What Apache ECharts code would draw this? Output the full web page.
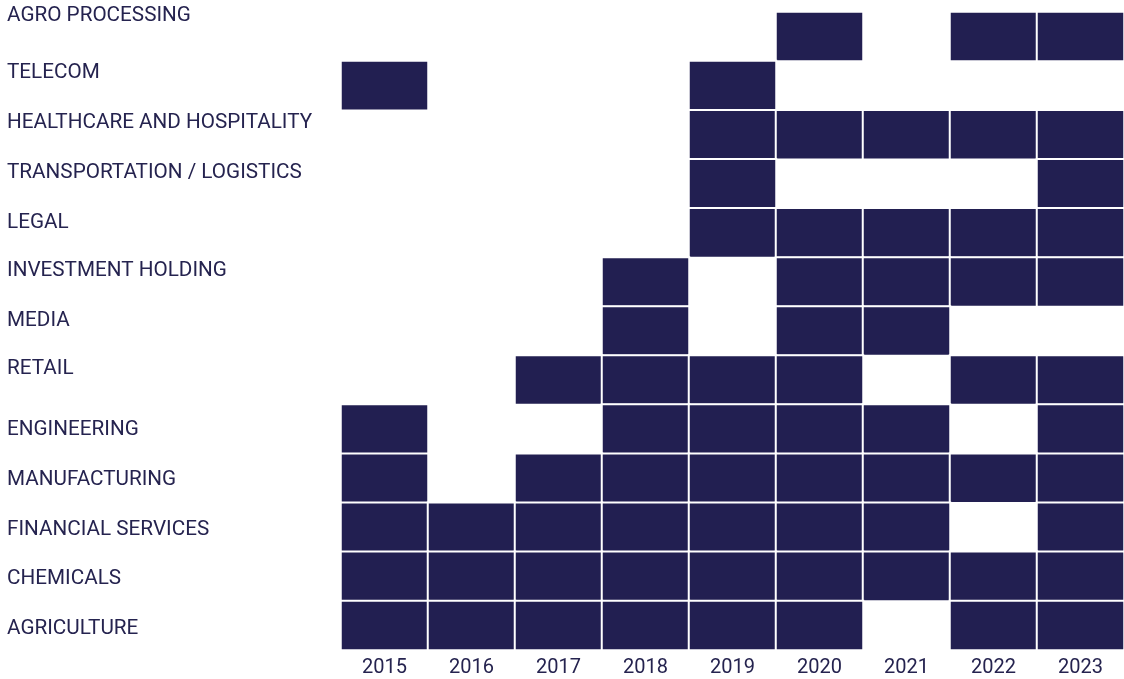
<!DOCTYPE html>
<html>
<head>
<meta charset="utf-8">
<script src="https://cdn.jsdelivr.net/npm/echarts@6/dist/echarts.min.js"></script>
<style>
  html, body { margin: 0; padding: 0; background: #ffffff; }
  #chart { width: 1124px; height: 679px; }
</style>
</head>
<body>
<div id="chart"></div>
<script>
// ---- Data ----
const years = ['2015', '2016', '2017', '2018', '2019', '2020', '2021', '2022', '2023'];
const industries = [
  'AGRO PROCESSING',
  'TELECOM',
  'HEALTHCARE AND HOSPITALITY',
  'TRANSPORTATION / LOGISTICS',
  'LEGAL',
  'INVESTMENT HOLDING',
  'MEDIA',
  'RETAIL',
  'ENGINEERING',
  'MANUFACTURING',
  'FINANCIAL SERVICES',
  'CHEMICALS',
  'AGRICULTURE'
];
// presence per year (2015..2023), 1 = active
const agroProcessing     = [0, 0, 0, 0, 0, 1, 0, 1, 1];
const telecom            = [1, 0, 0, 0, 1, 0, 0, 0, 0];
const healthcare         = [0, 0, 0, 0, 1, 1, 1, 1, 1];
const transportation     = [0, 0, 0, 0, 1, 0, 0, 0, 1];
const legal              = [0, 0, 0, 0, 1, 1, 1, 1, 1];
const investmentHolding  = [0, 0, 0, 1, 0, 1, 1, 1, 1];
const media              = [0, 0, 0, 1, 0, 1, 1, 0, 0];
const retail             = [0, 0, 1, 1, 1, 1, 0, 1, 1];
const engineering        = [1, 0, 0, 1, 1, 1, 1, 0, 1];
const manufacturing      = [1, 0, 1, 1, 1, 1, 1, 1, 1];
const financialServices  = [1, 1, 1, 1, 1, 1, 1, 0, 1];
const chemicals          = [1, 1, 1, 1, 1, 1, 1, 1, 1];
const agriculture        = [1, 1, 1, 1, 1, 1, 0, 1, 1];

const presence = [
  agroProcessing, telecom, healthcare, transportation, legal, investmentHolding,
  media, retail, engineering, manufacturing, financialServices, chemicals, agriculture
];

// ---- Build heatmap data ----
const cells = [];
presence.forEach((row, yi) => {
  row.forEach((v, xi) => { if (v) cells.push([xi, yi, v]); });
});

// ---- Style: per-row label vertical shift (px, positive = up) ----
const labelShift = [20.5, 12.5, 11.5, 10.5, 10, 11, 10, 11, -1, -1.5, -2.5, -2.5, -3];
const rich = {};
labelShift.forEach((d, i) => {
  rich['r' + i] = {
    fontFamily: 'Roboto',
    fontSize: 20.7,
    color: '#25234f',
    padding: d >= 0 ? [0, 0, 2 * d, 0] : [-2 * d, 0, 0, 0]
  };
});

const NAVY = '#221f51';
const chart = echarts.init(document.getElementById('chart'), null, { renderer: 'canvas' });
chart.setOption({
  animation: false,
  backgroundColor: '#ffffff',
  grid: { left: 341, right: 0, top: 12, bottom: 29, containLabel: false },
  xAxis: {
    type: 'category',
    data: years,
    axisLine: { show: false },
    axisTick: { show: false },
    splitLine: { show: false },
    axisLabel: {
      margin: 8,
      fontFamily: 'Roboto',
      fontSize: 20,
      color: '#25234f'
    }
  },
  yAxis: {
    type: 'category',
    data: industries,
    inverse: true,
    axisLine: { show: false },
    axisTick: { show: false },
    splitLine: { show: false },
    axisLabel: {
      align: 'left',
      margin: 334,
      formatter: (v, i) => '{r' + i + '|' + v + '}',
      rich: rich
    }
  },
  visualMap: {
    show: false,
    min: 0,
    max: 1,
    inRange: { color: [NAVY, NAVY] }
  },
  series: [{
    type: 'heatmap',
    data: cells,
    itemStyle: { color: NAVY, borderColor: '#ffffff', borderWidth: 2 },
    emphasis: { disabled: true },
    label: { show: false }
  }]
});
</script>
</body>
</html>
